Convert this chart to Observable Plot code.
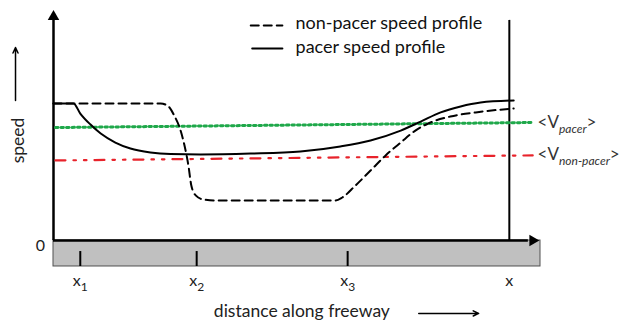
<!DOCTYPE html>
<html>
<head>
<meta charset="utf-8">
<script src="https://cdn.jsdelivr.net/npm/d3@7"></script>
<script src="https://cdn.jsdelivr.net/npm/@observablehq/plot@0.6"></script>
<style>
  body { margin: 0; background: #fff; }
  svg { display: block; }
</style>
</head>
<body>
<div id="chart"></div>
<script>
// Pacer speed profile (solid)
const pacerX = [0, 4.1, 5.5, 7.6, 9.7, 12.7, 15.8, 19.9, 24, 30.2, 40.5, 50.7, 58.9, 65.1, 71.3, 75.4, 79.5, 83.6, 87.7, 94.5];
const pacerSpeed = [59.6, 59.6, 55.2, 50.4, 46.5, 42.6, 40, 38.3, 37.6, 37.4, 37.8, 38.7, 40.9, 43.5, 47.8, 51.7, 55.7, 58.3, 60, 60.9];

// Non-pacer speed profile (dashed)
const nonPacerX = [0, 4.1, 22, 23.6, 24.8, 26.1, 26.9, 27.7, 28.3, 29.2, 30.8, 33.3, 57.9, 59.3, 62, 65.1, 68.2, 71.3, 74.3, 77.4, 81.5, 86.7, 94.5];
const nonPacerSpeed = [59.6, 59.6, 59.6, 58.3, 54.3, 47.8, 41.3, 32.6, 23.9, 19.6, 17.8, 17.4, 17.4, 18.7, 23.9, 30.4, 37, 42.6, 47.8, 51.3, 53.9, 55.7, 57.4];

// Average speeds (slightly tilted lines in the figure)
const avgX = [0.4, 98.4];
const vPacer = [49.1, 51.3];
const vNonPacer = [34.8, 37];

// Tick positions and labels
const tickPos = [5.5, 29.4, 60.4, 93.6];
const tickLabels = ["x1", "x2", "x3", "x"];

const legendLabels = ["non-pacer speed profile", "pacer speed profile"];

const pacer = pacerX.map((x, i) => ({x, y: pacerSpeed[i]}));
const nonPacer = nonPacerX.map((x, i) => ({x, y: nonPacerSpeed[i]}));
const green = avgX.map((x, i) => ({x, y: vPacer[i]}));
const red = avgX.map((x, i) => ({x, y: vNonPacer[i]}));
const ticks = tickPos.map((x, i) => ({x, label: tickLabels[i]}));

const FONT = "Lato, 'Open Sans', sans-serif";
const endX = tickPos[3];

const chart = Plot.plot({
  width: 621,
  height: 320,
  marginLeft: 53, marginRight: 81, marginTop: 10, marginBottom: 80,
  x: {domain: [0, 100], range: [53, 540], axis: null},
  y: {domain: [0, 100], range: [240, 10], axis: null},
  style: {fontFamily: FONT, background: "#fff", overflow: "visible"},
  marks: [
    // gray road band
    Plot.rect([0], {x1: 0, x2: 100, y1: -11.3, y2: 0, fill: "#c0c0c0", stroke: "#505050", strokeWidth: 1}),
    // ticks inside band
    Plot.ruleX(ticks.slice(0, 3), {x: "x", y1: -4.8, y2: -11.3, stroke: "#000", strokeWidth: 2}),
    // x axis line + arrowhead
    Plot.ruleY([0], {x1: 0, x2: 97.5, stroke: "#000", strokeWidth: 2.5}),
    Plot.dot([0], {x: 98.4, y: 0, symbol: "triangle2", r: 5.5, fill: "#000", rotate: 90}),
    // y axis line + arrowhead
    Plot.ruleX([0], {y1: 0, y2: 96, stroke: "#000", strokeWidth: 2.5}),
    Plot.dot([0], {x: 0, y: 97.3, symbol: "triangle2", r: 5.5, fill: "#000"}),
    // vertical line at x
    Plot.ruleX([endX], {y1: 0, y2: 95.7, stroke: "#000", strokeWidth: 2}),
    // average speed lines
    Plot.line(green, {x: "x", y: "y", stroke: "#1fa84a", strokeWidth: 3, strokeDasharray: "2.5,3"}),
    Plot.line(red, {x: "x", y: "y", stroke: "#e8232b", strokeWidth: 2.2, strokeDasharray: "10,8,2.5,8,2.5,8"}),
    // speed profiles
    Plot.line(nonPacer, {x: "x", y: "y", stroke: "#000", strokeWidth: 2, strokeDasharray: "8,5", curve: "monotone-x"}),
    Plot.line(pacer, {x: "x", y: "y", stroke: "#000", strokeWidth: 2, curve: "monotone-x"}),
    // average labels
    Plot.text(["<Vpacer>", "<Vnon-pacer>"], {x: 99.4, y: [51.3, 37.4], text: d => d, textAnchor: "start", fontSize: 17, fill: "#333"}),
    // tick labels
    Plot.text(ticks, {x: "x", y: -17.4, text: "label", fontSize: 16, fill: "#222"}),
    Plot.text(["0"], {x: -2.7, y: -2.2, text: d => d, fontSize: 16, fill: "#222"}),
    // axis titles
    Plot.text(["distance along freeway"], {x: 51, y: -31, text: d => d, fontSize: 17.5, fill: "#222"}),
    Plot.arrow([0], {x1: 75, x2: 87.3, y1: -31.7, y2: -31.7, stroke: "#000", strokeWidth: 1.5, headLength: 6, headAngle: 50}),
    Plot.text(["speed"], {x: -7.3, y: 43.5, text: d => d, rotate: -90, fontSize: 17.5, fill: "#222"}),
    Plot.arrow([0], {x1: -7.8, x2: -7.8, y1: 60.9, y2: 83.9, stroke: "#000", strokeWidth: 1.5, headLength: 6, headAngle: 50}),
    // legend
    Plot.line([{x: 40.5, y: 93.5}, {x: 47, y: 93.5}], {x: "x", y: "y", stroke: "#000", strokeWidth: 2, strokeDasharray: "8,5"}),
    Plot.line([{x: 40.8, y: 83.5}, {x: 47, y: 83.5}], {x: "x", y: "y", stroke: "#000", strokeWidth: 2}),
    Plot.text(legendLabels, {x: 49.7, y: [94.6, 84], text: d => d, textAnchor: "start", fontSize: 18, fill: "#111"})
  ]
});

// subscripts
for (const t of chart.querySelectorAll("text")) {
  const s = t.textContent;
  let m;
  if ((m = s.match(/^<V(.+)>$/))) {
    t.textContent = "";
    const a = document.createElementNS("http://www.w3.org/2000/svg", "tspan");
    a.textContent = "<V";
    const b = document.createElementNS("http://www.w3.org/2000/svg", "tspan");
    b.textContent = m[1];
    b.setAttribute("dy", "5");
    b.setAttribute("font-size", "12");
    b.setAttribute("font-style", "italic");
    const c = document.createElementNS("http://www.w3.org/2000/svg", "tspan");
    c.textContent = ">";
    c.setAttribute("dy", "-5");
    t.append(a, b, c);
  } else if ((m = s.match(/^x(\d)$/))) {
    t.textContent = "";
    const a = document.createElementNS("http://www.w3.org/2000/svg", "tspan");
    a.textContent = "x";
    const b = document.createElementNS("http://www.w3.org/2000/svg", "tspan");
    b.textContent = m[1];
    b.setAttribute("dy", "5");
    b.setAttribute("font-size", "12");
    t.append(a, b);
  }
}

document.getElementById("chart").append(chart);
</script>
</body>
</html>
